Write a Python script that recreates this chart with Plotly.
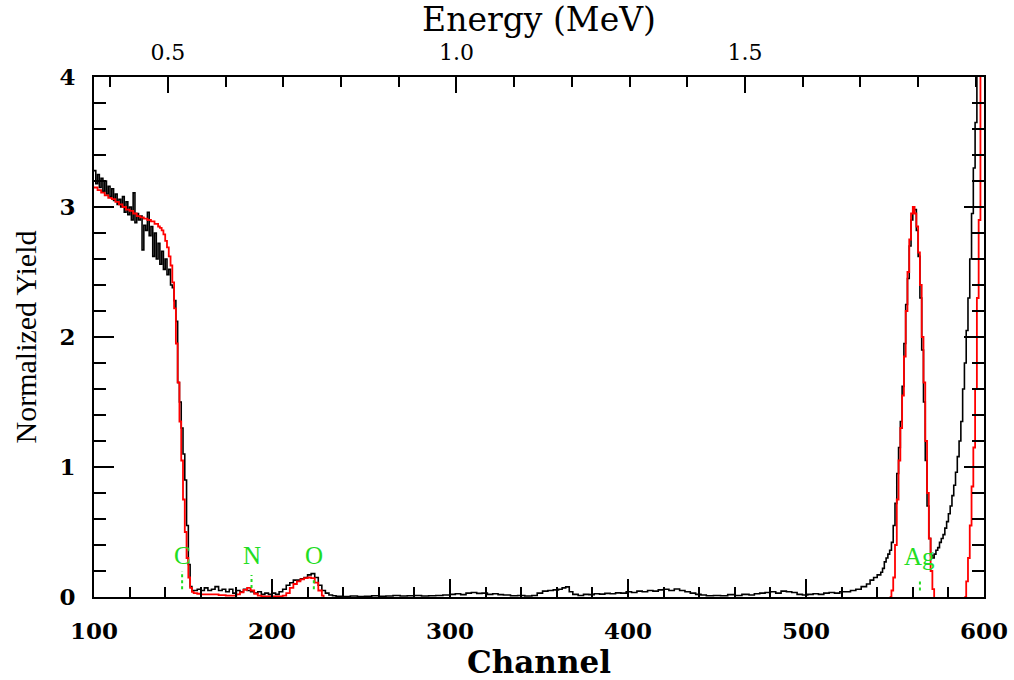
import plotly.graph_objects as go

# ---------------- data ----------------
# experimental spectrum (black), channel / normalized yield
exp_ch = [100, 101, 102, 103, 104, 105, 106, 107, 108, 109, 110, 111, 112, 113, 114, 115, 116, 117, 118, 119,
          120, 121, 122, 123, 124, 125, 126, 127, 128, 129, 130, 131, 132, 133, 134, 135, 136, 137, 138, 139,
          140, 141, 142, 143, 144, 145, 146, 147, 148, 149, 150, 151, 152, 153, 154, 155,
          156, 158, 160, 162, 164, 166, 168, 170, 172, 174, 176, 178, 180, 182, 184, 186, 188, 190, 192, 194,
          196, 198, 200, 202, 204, 206, 208, 210, 212, 214, 216, 218, 220, 222, 224, 226, 228, 230, 232, 234,
          236, 240, 244, 248, 252, 256, 260, 264, 268, 272, 276, 280, 284, 288, 292, 296,
          300, 303, 306, 309, 312, 315, 318, 321, 324, 327, 330, 334, 338, 342, 346, 349, 352, 355, 358, 361,
          363, 365, 367, 369, 372, 375, 378, 381, 384, 387, 390, 393, 396, 399, 402, 405, 408, 411, 414, 417,
          420, 423, 426, 429, 432, 435, 438, 441, 444, 448, 452, 456, 460, 464, 468, 471, 474, 477, 480, 483,
          486, 489, 492, 495, 498, 501, 504, 507, 510, 513, 516, 519, 522, 525, 528, 531, 534, 536, 538, 540,
          542, 543, 544, 545, 546, 547, 548, 549, 550, 551, 552, 553, 554, 555, 556, 557, 558, 559, 560, 561,
          562, 563, 564, 565, 566, 567, 568, 569, 570, 571, 572, 573, 574, 575, 576, 577, 578, 579, 580, 581,
          582, 583, 584, 585, 586, 587, 588, 589, 590, 591, 592, 593, 594, 595, 596, 597, 598, 599, 600]
exp_yield = [3.28, 3.18, 3.25, 3.15, 3.22, 3.12, 3.20, 3.10, 3.16, 3.08, 3.14, 3.05, 3.10, 3.02, 3.06, 3.00, 3.08, 2.96, 3.04, 2.94,
             3.00, 2.90, 3.11, 2.88, 2.95, 2.90, 2.93, 2.67, 2.86, 2.82, 2.96, 2.78, 2.85, 2.62, 2.80, 2.60, 2.72, 2.56, 2.66, 2.52,
             2.60, 2.48, 2.52, 2.40, 2.38, 2.28, 2.12, 1.65, 1.50, 1.30, 1.10, 0.90, 0.55, 0.25, 0.08, 0.05,
             0.05, 0.06, 0.05, 0.07, 0.05, 0.06, 0.08, 0.05, 0.06, 0.04, 0.06, 0.03, 0.05, 0.04, 0.06, 0.05, 0.04, 0.03, 0.04, 0.02,
             0.03, 0.02, 0.03, 0.02, 0.04, 0.06, 0.09, 0.11, 0.13, 0.13, 0.14, 0.15, 0.17, 0.18, 0.15, 0.09, 0.05, 0.03, 0.015, 0.01,
             0.005, 0.003, 0.008, 0.004, 0.006, 0.010, 0.005, 0.008, 0.012, 0.008, 0.010, 0.012, 0.008, 0.010, 0.012, 0.015,
             0.020, 0.025, 0.018, 0.030, 0.035, 0.028, 0.030, 0.020, 0.025, 0.018, 0.015, 0.010, 0.012, 0.008, 0.012, 0.030, 0.045, 0.050, 0.055, 0.060,
             0.070, 0.078, 0.040, 0.020, 0.012, 0.020, 0.018, 0.025, 0.022, 0.028, 0.025, 0.032, 0.030, 0.040, 0.035, 0.045, 0.040, 0.050, 0.045, 0.055,
             0.060, 0.050, 0.062, 0.050, 0.040, 0.030, 0.020, 0.015, 0.010, 0.012, 0.010, 0.018, 0.012, 0.020, 0.015, 0.025, 0.030, 0.035, 0.040, 0.030,
             0.045, 0.040, 0.035, 0.020, 0.015, 0.020, 0.025, 0.020, 0.030, 0.035, 0.030, 0.040, 0.040, 0.050, 0.060, 0.080, 0.100, 0.130, 0.150, 0.170,
             0.190, 0.220, 0.270, 0.300, 0.330, 0.360, 0.420, 0.550, 0.720, 0.950, 1.150, 1.350, 1.620, 1.950, 2.250, 2.450, 2.700, 2.900, 2.980, 2.980,
             2.820, 2.620, 2.300, 1.900, 1.500, 1.050, 0.700, 0.450, 0.320, 0.300, 0.330, 0.360, 0.380, 0.420, 0.450, 0.480, 0.530, 0.580, 0.640, 0.700,
             0.780, 0.860, 0.960, 1.080, 1.200, 1.350, 1.600, 1.800, 2.050, 2.300, 2.600, 2.950, 3.300, 3.650, 4.050, 4.600, 5.200, 5.800, 6.400]

# simulated spectrum (red); None = no simulated signal drawn (lies on the axis)
sim_ch = [100, 102, 104, 106, 108, 110, 112, 114, 116, 118, 120, 122, 124, 126, 128, 130, 132, 134, 136, 137,
          138, 139, 140, 141, 142, 143, 144, 145, 146, 147, 148, 149, 150, 151, 152, 153, 154, 155,
          156, 158, 160, 162, 164, 166, 168, 170, 172, 174, 176, 178, 180, 182, 184, 186, 188, 190, 192, 194,
          196, 198, 200, 202, 204, 206, 208, 210, 212, 214, 216, 218, 220, 222, 224, 226, 228, 229, 230,
          547, 548, 549, 550, 551, 552, 553, 554, 555, 556, 557, 558, 559, 560, 561, 562, 563, 564, 565,
          566, 567, 568, 569, 570, 571, 572, 580, 589, 590, 591, 592, 593, 594, 595, 596, 597, 598, 599, 600]
sim_yield = [3.15, 3.13, 3.11, 3.09, 3.07, 3.06, 3.04, 3.02, 3.00, 2.98, 2.97, 2.95, 2.93, 2.92, 2.91, 2.90, 2.89, 2.87, 2.85, 2.84,
             2.82, 2.79, 2.74, 2.69, 2.62, 2.55, 2.42, 2.22, 1.95, 1.65, 1.35, 1.05, 0.75, 0.50, 0.30, 0.15, 0.07, 0.04,
             0.03, 0.025, 0.02, 0.02, 0.02, 0.02, 0.02, 0.015, 0.015, 0.01, 0.01, 0.01, 0.02, 0.035, 0.055, 0.07, 0.05, 0.025, 0.01, 0.005,
             0.005, 0.005, 0.005, 0.005, 0.005, 0.01, 0.03, 0.07, 0.10, 0.12, 0.135, 0.145, 0.15, 0.145, 0.11, 0.05, 0.01, 0.0, None,
             0.0, 0.05, 0.15, 0.40, 0.75, 1.05, 1.30, 1.55, 1.85, 2.20, 2.50, 2.75, 2.95, 3.00, 2.95, 2.85, 2.65, 2.40, 2.00,
             1.65, 1.20, 0.80, 0.45, 0.20, 0.06, 0.0, None, 0.0, 0.12, 0.30, 0.55, 0.85, 1.15, 1.60, 2.30, 2.90, 4.50, 6.00, 7.50]

# element markers
elem_names = ["C", "N", "O", "Ag"]
elem_ch = [149.5, 188.5, 223.5, 564.0]
elem_label_y = [0.32, 0.32, 0.32, 0.31]
elem_mark_lo = [0.06, 0.07, 0.06, 0.05]
elem_mark_hi = [0.20, 0.17, 0.13, 0.12]

# top energy axis
energy_range = [0.372, 1.914]
ch_range = [100, 600]

GREEN = "#22dd22"

fig = go.Figure()

fig.add_trace(go.Scatter(x=exp_ch, y=exp_yield, mode="lines", line=dict(color="black", width=1.6, shape="hv"),
                         showlegend=False, hoverinfo="skip"))
fig.add_trace(go.Scatter(x=sim_ch, y=sim_yield, mode="lines", connectgaps=False,
                         line=dict(color="#ff0000", width=1.8, shape="hv"),
                         showlegend=False, hoverinfo="skip"))

for c, lo, hi in zip(elem_ch, elem_mark_lo, elem_mark_hi):
    fig.add_trace(go.Scatter(x=[c, c], y=[lo, hi], mode="lines", line=dict(color=GREEN, width=2, dash="dot"),
                             showlegend=False, hoverinfo="skip"))

# dummy trace for the top energy axis
fig.add_trace(go.Scatter(x=energy_range, y=[-1, -1], xaxis="x2", mode="markers", marker=dict(opacity=0),
                         showlegend=False, hoverinfo="skip"))

for name, c, y in zip(elem_names, elem_ch, elem_label_y):
    fig.add_annotation(x=c, y=y, text=name, showarrow=False, xanchor="center", yanchor="middle",
                       font=dict(family="Liberation Serif", size=25, color=GREEN))

tickfont_b = dict(family="DejaVu Serif", size=23, color="black", weight="bold")

fig.update_layout(
    width=1014, height=680,
    margin=dict(l=94, r=30, t=77, b=83, autoexpand=False),
    paper_bgcolor="white", plot_bgcolor="white",
    xaxis=dict(
        range=ch_range, tickmode="linear", tick0=100, dtick=100, automargin=False,
        ticks="inside", ticklen=18, tickwidth=2, tickcolor="black",
        minor=dict(dtick=20, ticks="inside", ticklen=10, tickwidth=2, tickcolor="black"),
        showline=True, linewidth=2, linecolor="black", mirror=False,
        showgrid=False, zeroline=False,
        tickfont=tickfont_b, ticklabelstandoff=12,
        title=dict(text="Channel", font=dict(family="DejaVu Serif", size=31, color="black", weight="bold"), standoff=6),
    ),
    xaxis2=dict(
        overlaying="x", side="top", range=energy_range, automargin=False,
        tickmode="linear", tick0=0, dtick=0.5, tickformat=".1f",
        ticks="inside", ticklen=16, tickwidth=2, tickcolor="black",
        minor=dict(dtick=0.1, tick0=0, ticks="inside", ticklen=10, tickwidth=2, tickcolor="black"),
        showline=True, linewidth=2, linecolor="black",
        showgrid=False, zeroline=False,
        tickfont=dict(family="DejaVu Serif", size=22, color="black"), ticklabelstandoff=6,
        title=dict(text="Energy (MeV)", font=dict(family="DejaVu Serif", size=33, color="black"), standoff=6),
    ),
    yaxis=dict(
        range=[0, 4], tickmode="linear", tick0=0, dtick=1, automargin=False,
        ticks="inside", ticklen=20, tickwidth=2, tickcolor="black",
        minor=dict(dtick=0.2, ticks="inside", ticklen=12, tickwidth=2, tickcolor="black"),
        showline=True, linewidth=2, linecolor="black", mirror="ticks",
        showgrid=False, zeroline=False,
        tickfont=tickfont_b, ticklabelstandoff=12,
        title=dict(text="Normalized Yield", font=dict(family="Liberation Serif", size=30, color="black"), standoff=14),
    ),
)

fig.write_html("out.html")
